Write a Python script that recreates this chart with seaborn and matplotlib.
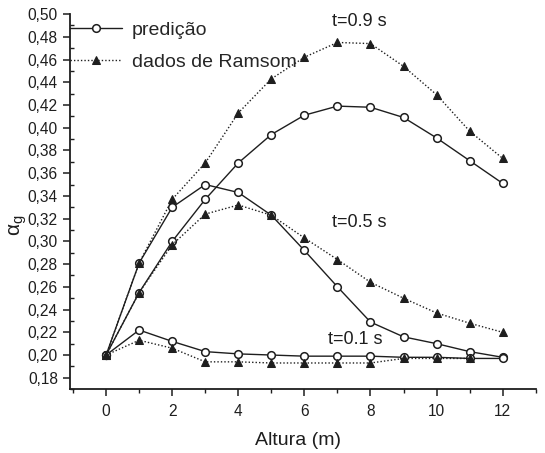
import numpy as np
import pandas as pd
import seaborn as sns
import matplotlib.pyplot as plt
from matplotlib.ticker import MultipleLocator, FuncFormatter

altura = [0, 1, 2, 3, 4, 5, 6, 7, 8, 9, 10, 11, 12]

pred_01 = [0.200, 0.222, 0.212, 0.203, 0.201, 0.200, 0.199, 0.199, 0.199, 0.198, 0.198, 0.197, 0.197]
pred_05 = [0.200, 0.281, 0.330, 0.350, 0.343, 0.323, 0.292, 0.260, 0.229, 0.216, 0.210, 0.203, 0.198]
pred_09 = [0.200, 0.255, 0.300, 0.337, 0.369, 0.394, 0.411, 0.419, 0.418, 0.409, 0.391, 0.371, 0.351]

altura_d01 = [0, 1, 2, 3, 4, 5, 6, 7, 8, 9, 10, 11]
dados_01 = [0.200, 0.213, 0.206, 0.194, 0.194, 0.193, 0.193, 0.193, 0.193, 0.197, 0.197, 0.197]
dados_05 = [0.200, 0.255, 0.297, 0.324, 0.332, 0.323, 0.303, 0.284, 0.264, 0.250, 0.237, 0.228, 0.220]
dados_09 = [0.200, 0.281, 0.337, 0.369, 0.413, 0.443, 0.462, 0.475, 0.474, 0.454, 0.429, 0.397, 0.373]

rotulos = ["t=0.9 s", "t=0.5 s", "t=0.1 s"]
rotulo_x = [6.85, 6.85, 6.72]
rotulo_y = [0.493, 0.317, 0.214]

sns.set_style("ticks")
plt.rcParams["font.family"] = ["Liberation Sans", "DejaVu Sans"]
plt.rcParams["mathtext.fontset"] = "custom"
plt.rcParams["mathtext.rm"] = "Liberation Sans"
plt.rcParams["mathtext.it"] = "Liberation Sans"

cor = "#1e1e1e"
fig = plt.figure(figsize=(5.45, 4.53), dpi=100)
ax = fig.add_axes([0.128, 0.141, 0.855, 0.828])

pred_style = dict(color=cor, linewidth=1.0, marker="o", markersize=5.5,
                  markerfacecolor="white", markeredgecolor=cor, markeredgewidth=1.1,
                  zorder=3)
dados_style = dict(color=cor, linewidth=1.0, linestyle=(0, (1, 1.5)), marker="^",
                   markersize=6.2, markerfacecolor=cor, markeredgecolor=cor, zorder=4)

sns.lineplot(x=altura, y=pred_09, ax=ax, label="predição", **pred_style)
sns.lineplot(x=altura, y=pred_05, ax=ax, **pred_style)
sns.lineplot(x=altura, y=pred_01, ax=ax, **pred_style)
sns.lineplot(x=altura, y=dados_09, ax=ax, label="dados de Ramsom", **dados_style)
sns.lineplot(x=altura, y=dados_05, ax=ax, **dados_style)
sns.lineplot(x=altura_d01, y=dados_01, ax=ax, **dados_style)

for txt, tx, ty in zip(rotulos, rotulo_x, rotulo_y):
    ax.text(tx, ty, txt, fontsize=13, color=cor, va="center", ha="left")

ax.set_xlim(-1.1, 13)
ax.set_ylim(0.17, 0.50)
ax.xaxis.set_major_locator(MultipleLocator(2))
ax.xaxis.set_minor_locator(MultipleLocator(1))
ax.yaxis.set_major_locator(MultipleLocator(0.02))
ax.yaxis.set_minor_locator(MultipleLocator(0.01))
ax.yaxis.set_major_formatter(FuncFormatter(lambda v, _: f"{v:.2f}".replace(".", ",")))

ax.tick_params(axis="both", which="major", direction="out", length=5, width=1.1,
               labelsize=11.2, colors=cor)
ax.tick_params(axis="x", which="major", pad=6)
ax.tick_params(axis="x", which="minor", direction="out", length=3, width=1.0, colors=cor)
ax.tick_params(axis="y", which="minor", direction="in", length=3, width=1.0, colors=cor)

for s in ["top", "right"]:
    ax.spines[s].set_visible(False)
for s in ["left", "bottom"]:
    ax.spines[s].set_linewidth(1.3)
    ax.spines[s].set_color(cor)

ax.set_xlabel("Altura (m)", fontsize=14, color=cor)
ax.xaxis.set_label_coords(0.49, -0.115)
ax.set_ylabel(r"$\alpha_\mathrm{g}$", fontsize=15, color=cor)
ax.yaxis.set_label_coords(-0.088, 0.437)

ax.legend(loc="upper left", bbox_to_anchor=(0.0, 0.981), frameon=False,
          fontsize=14, handlelength=2.7, handletextpad=0.5, labelspacing=0.75,
          borderaxespad=0.0, borderpad=0.0)

fig.savefig("out.png", dpi=100)
